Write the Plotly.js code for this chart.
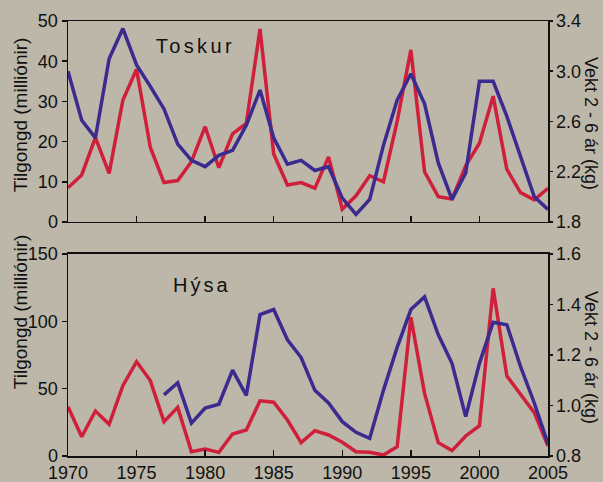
<!DOCTYPE html>
<html>
<head>
<meta charset="utf-8">
<script src="https://cdn.plot.ly/plotly-3.0.1.min.js"></script>
<style>
html,body{margin:0;padding:0;background:#bcb7a8;}
#chart{width:603px;height:482px;}
</style>
</head>
<body>
<div id="chart"></div>
<script>
// Years
var years = [];
for (var y = 1970; y <= 2005; y++) years.push(y);

// Toskur (cod): recruitment (millions) and weight 2-6 yr (kg)
var codRecruit = [8.5, 11.7, 21, 12.1, 30.3, 38, 18.6, 9.8, 10.3, 15, 23.7, 13.5, 21.9, 24.5, 48, 16.9, 9.2, 9.8,
                  8.4, 16.2, 3.2, 6.5, 11.5, 10, 25, 42.8, 12.5, 6.3, 5.7, 14, 19.6, 31.3, 13.1, 7.3, 5.5, 8.4];
var codWeight = [3.0, 2.61, 2.47, 3.10, 3.34, 3.05, 2.88, 2.70, 2.42, 2.29, 2.24, 2.33, 2.37, 2.57, 2.85, 2.47, 2.26, 2.29,
                 2.21, 2.24, 1.99, 1.86, 1.98, 2.41, 2.77, 2.98, 2.74, 2.27, 1.98, 2.19, 2.92, 2.92, 2.64, 2.33, 2.0, 1.90];

// Hýsa (haddock)
var hadRecruit = [36.6, 14.3, 33.4, 23.5, 52.2, 70, 56, 25.5, 36.1, 3.2, 5.2, 2.7, 16.3, 19.3, 41, 39.9, 26.7, 9.9,
                  18.8, 15.6, 10.2, 3.2, 2.7, 0.7, 6.9, 103, 46.5, 9.9, 4, 14.9, 22.5, 124.5, 59.4, 45.3, 32.2, 7.4];
var hadWeight = [null, null, null, null, null, null, null, 1.042, 1.09, 0.93, 0.99, 1.005, 1.14, 1.04, 1.36, 1.38, 1.26, 1.19,
                 1.06, 1.01, 0.936, 0.894, 0.87, 1.06, 1.23, 1.38, 1.43, 1.28, 1.167, 0.956, 1.167, 1.33, 1.32, 1.154, 1.01, 0.848];

var xTicks = [1970, 1975, 1980, 1985, 1990, 1995, 2000, 2005];
var leftTicksTop = [0, 10, 20, 30, 40, 50];
var rightTicksTop = [1.8, 2.2, 2.6, 3.0, 3.4];
var rightTickTextTop = ['1.8', '2.2', '2.6', '3.0', '3.4'];
var leftTicksBot = [0, 50, 100, 150];
var rightTicksBot = [0.8, 1.0, 1.2, 1.4, 1.6];
var rightTickTextBot = ['0.8', '1.0', '1.2', '1.4', '1.6'];

var RED = '#cf1f3b';
var BLUE = '#3b2a8f';
var INK = '#111111';
var FONT = 'Liberation Sans, Arial, sans-serif';

var traces = [
  {x: years, y: codRecruit, xaxis: 'x', yaxis: 'y', mode: 'lines', line: {color: RED, width: 3.5}, hoverinfo: 'skip'},
  {x: years, y: codWeight, xaxis: 'x', yaxis: 'y2', mode: 'lines', line: {color: BLUE, width: 3.5}, hoverinfo: 'skip'},
  {x: years, y: hadRecruit, xaxis: 'x2', yaxis: 'y3', mode: 'lines', line: {color: RED, width: 3.5}, hoverinfo: 'skip'},
  {x: years, y: hadWeight, xaxis: 'x2', yaxis: 'y4', mode: 'lines', line: {color: BLUE, width: 3.5}, hoverinfo: 'skip', connectgaps: false}
];

var topDom = [0.538, 1];
var botDom = [0, 0.4644];

function xax(anchor, showLabels) {
  return {
    domain: [0, 1], anchor: anchor, range: [1970, 2005],
    tickvals: xTicks, ticks: 'inside', ticklen: 6, tickwidth: 1.5, tickcolor: INK,
    showticklabels: showLabels, tickfont: {family: FONT, size: 18, color: INK}, ticklabelstandoff: 0,
    showgrid: false, zeroline: false, showline: true, linecolor: INK, linewidth: 1.5,
    mirror: true, fixedrange: true
  };
}
function yl(dom, anchor, range, vals) {
  return {
    domain: dom, anchor: anchor, range: range, tickvals: vals,
    ticks: 'outside', ticklen: 5, tickwidth: 1.5, tickcolor: INK,
    tickfont: {family: FONT, size: 18, color: INK}, ticklabelstandoff: 0,
    showgrid: false, zeroline: false, showline: true, linecolor: INK, linewidth: 1.5, fixedrange: true
  };
}
function yr(anchor, overlay, range, vals, text) {
  return {
    overlaying: overlay, anchor: anchor, side: 'right', range: range, tickvals: vals, ticktext: text,
    ticks: 'outside', ticklen: 3, tickwidth: 1.5, tickcolor: INK,
    tickfont: {family: FONT, size: 18, color: INK}, ticklabelstandoff: 0,
    showgrid: false, zeroline: false, showline: true, linecolor: INK, linewidth: 1.5, fixedrange: true
  };
}

function py(px) { return (456 - px) / 435; }
function pxx(px) { return (px - 67.5) / 481; }

// target centres (pixels) of the free texts, in annotation order
var targets = [[196, 46.7], [201.7, 285], [20, 114.5], [20, 311.5], [591, 123], [591, 357]];

function ann(text, i, angle, size) {
  return {text: text, xref: 'paper', yref: 'paper', x: pxx(targets[i][0]), y: py(targets[i][1]),
          showarrow: false, textangle: angle, font: {family: FONT, size: size, color: INK},
          xanchor: 'center', yanchor: 'middle', xshift: 0, yshift: 0};
}

var layout = {
  width: 603, height: 482,
  margin: {l: 67.5, r: 54.5, t: 21, b: 26},
  paper_bgcolor: '#bcb7a8', plot_bgcolor: '#bcb7a8',
  showlegend: false,
  xaxis: xax('y', false),
  xaxis2: xax('y3', true),
  yaxis: yl(topDom, 'x', [0, 50], leftTicksTop),
  yaxis2: yr('x', 'y', [1.8, 3.4], rightTicksTop, rightTickTextTop),
  yaxis3: yl(botDom, 'x2', [0, 150], leftTicksBot),
  yaxis4: yr('x2', 'y3', [0.8, 1.6], rightTicksBot, rightTickTextBot),
  annotations: [
    ann('Toskur', 0, 0, 20),
    ann('Hýsa', 1, 0, 20),
    ann('Tilgongd (milliónir)', 2, -90, 19),
    ann('Tilgongd (milliónir)', 3, -90, 19),
    ann('Vekt 2 - 6 ár (kg)', 4, 90, 18),
    ann('Vekt 2 - 6 ár (kg)', 5, 90, 18)
  ]
};

function spacing() {
  var anns = document.querySelectorAll('.annotation-text');
  if (anns[0]) anns[0].style.letterSpacing = '3.4px';
  if (anns[1]) anns[1].style.letterSpacing = '3px';
}

Plotly.newPlot('chart', traces, layout, {staticPlot: true, displayModeBar: false}).then(function () {
  spacing();
  var host = document.getElementById('chart').getBoundingClientRect();
  var groups = document.querySelectorAll('.annotation');
  var upd = {};
  for (var i = 0; i < groups.length && i < targets.length; i++) {
    var t = groups[i].querySelector('.annotation-text');
    if (!t) continue;
    var r = t.getBoundingClientRect();
    var cx = r.left - host.left + r.width / 2;
    var cy = r.top - host.top + r.height / 2;
    upd['annotations[' + i + '].xshift'] = targets[i][0] - cx;
    upd['annotations[' + i + '].yshift'] = cy - targets[i][1];
  }
  return Plotly.relayout('chart', upd);
}).then(function () { spacing(); });
</script>
</body>
</html>
